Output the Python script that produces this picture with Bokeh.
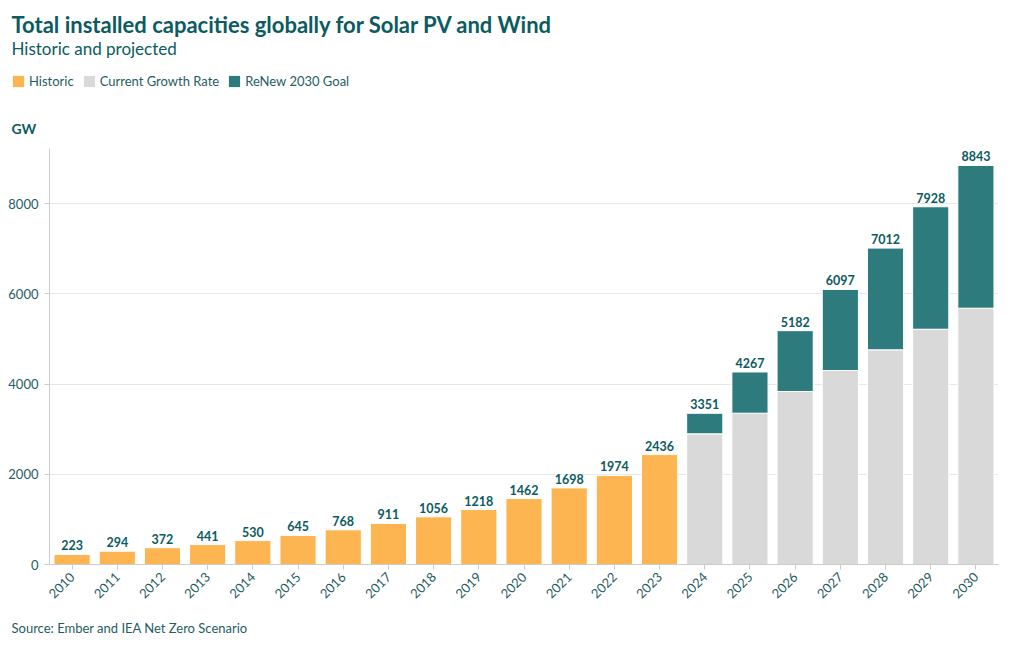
from bokeh.plotting import figure
from bokeh.layouts import column
from bokeh.models import (ColumnDataSource, FactorRange, FixedTicker, Title, Legend,
                          LegendItem, LabelSet, Label, Range1d)
from bokeh.core.properties import value
from bokeh.embed import file_html
from bokeh.resources import INLINE
import math

years = [str(y) for y in range(2010, 2031)]
hist_years = years[:14]
hist_values = [223, 294, 372, 441, 530, 645, 768, 911, 1056, 1218, 1462, 1698, 1974, 2436]
proj_years = years[14:]
current_growth = [2896, 3353, 3834, 4299, 4758, 5214, 5680]
renew_goal = [3351, 4267, 5182, 6097, 7012, 7928, 8843]
y_ticks = [0, 2000, 4000, 6000, 8000]
series_names = ["Historic", "Current Growth Rate", "ReNew 2030 Goal"]

FONT = "Lato"
TITLE_C = "#0b5b60"
TEXT_C = "#1f5d62"
ORANGE = "#fdb551"
GRAY = "#d9d9d9"
TEAL = "#2e7b7d"
COLORS = [ORANGE, GRAY, TEAL]

# ---------------- header (title, subtitle, legend, unit) ----------------
HDR_H = 140
HDR_W = 1004
hdr = figure(width=HDR_W, height=HDR_H, x_range=Range1d(0, HDR_W), y_range=Range1d(HDR_H, 0),
             x_axis_type=None, y_axis_type=None, output_backend="svg",
             toolbar_location=None, min_border=0, outline_line_color=None)
hdr.frame_align = False
hdr.grid.visible = False

hdr.add_layout(Label(x=11, y=24, text="Total installed capacities globally for Solar PV and Wind",
                     text_font=FONT, text_font_size="22px", text_font_style="bold",
                     text_color=TITLE_C, text_baseline="middle"))
hdr.add_layout(Label(x=11, y=48, text="Historic and projected",
                     text_font=FONT, text_font_size="17px",
                     text_color=TITLE_C, text_baseline="middle"))
hdr.add_layout(Label(x=11, y=128, text="GW",
                     text_font=FONT, text_font_size="14px", text_font_style="bold",
                     text_color=TITLE_C, text_baseline="middle"))

dummy = ColumnDataSource(dict(x=[-50], top=[0]))
items = []
for name, col in zip(series_names, COLORS):
    r = hdr.vbar(x="x", top="top", width=1, source=dummy, fill_color=col, line_color=None)
    items.append(LegendItem(label=name, renderers=[r]))
legend = Legend(items=items, orientation="horizontal", location=(11, HDR_H - 89),
                glyph_width=14, glyph_height=14, label_standoff=4, spacing=8,
                padding=0, margin=0, border_line_color=None, background_fill_alpha=0,
                label_text_font=FONT, label_text_font_size="13px",
                label_text_color=TEXT_C, label_height=14)
hdr.add_layout(legend, "center")

# ---------------- main chart ----------------
p = figure(x_range=FactorRange(factors=years), y_range=Range1d(0, 9219),
           frame_width=949, frame_height=416, output_backend="svg", toolbar_location=None,
           min_border_left=49, min_border_right=6, min_border_top=8, min_border_bottom=4)
p.frame_align = False
p.outline_line_color = None

hist_src = ColumnDataSource(dict(x=hist_years, top=hist_values,
                                 label=[str(v) for v in hist_values]))
proj_src = ColumnDataSource(dict(x=proj_years, gray=current_growth, top=renew_goal,
                                 label=[str(v) for v in renew_goal]))

p.vbar(x="x", top="top", width=0.8, source=hist_src, fill_color=ORANGE,
       line_color="white", line_width=1)
p.vbar(x="x", top="gray", width=0.8, source=proj_src, fill_color=GRAY,
       line_color="white", line_width=1)
p.vbar(x="x", bottom="gray", top="top", width=0.8, source=proj_src,
       fill_color=TEAL, line_color="white", line_width=1)

for src in (hist_src, proj_src):
    p.add_layout(LabelSet(x="x", y="top", text="label", source=src, y_offset=4,
                          text_align="center", text_baseline="bottom",
                          text_font=value(FONT), text_font_size="12.5px",
                          text_font_style="bold", text_color=TITLE_C))

p.yaxis.ticker = FixedTicker(ticks=y_ticks)
p.yaxis.minor_tick_line_color = None
p.yaxis.major_tick_in = 0
p.yaxis.major_tick_out = 5
p.yaxis.major_label_standoff = 6
p.yaxis.axis_line_color = "#cccccc"
p.yaxis.major_tick_line_color = "#cccccc"
p.yaxis.major_label_text_font = FONT
p.yaxis.major_label_text_font_size = "13px"
p.yaxis.major_label_text_color = TEXT_C

p.xaxis.major_label_orientation = math.pi / 4
p.xaxis.axis_line_color = "#cccccc"
p.xaxis.major_tick_line_color = "#cccccc"
p.xaxis.major_tick_in = 0
p.xaxis.major_tick_out = 5
p.xaxis.major_label_text_font = FONT
p.xaxis.major_label_text_font_size = "13px"
p.xaxis.major_label_text_color = TEXT_C

p.xgrid.grid_line_color = None
p.ygrid.grid_line_color = "#e8e8e8"
p.ygrid.ticker = FixedTicker(ticks=y_ticks)

p.add_layout(Title(text="Source: Ember and IEA Net Zero Scenario", text_font=FONT,
                   text_font_size="13px", text_font_style="normal",
                   text_color=TEXT_C, offset=-38, standoff=25), "below")

layout = column(hdr, p, spacing=0)
open("out.html", "w").write(file_html(layout, INLINE))
